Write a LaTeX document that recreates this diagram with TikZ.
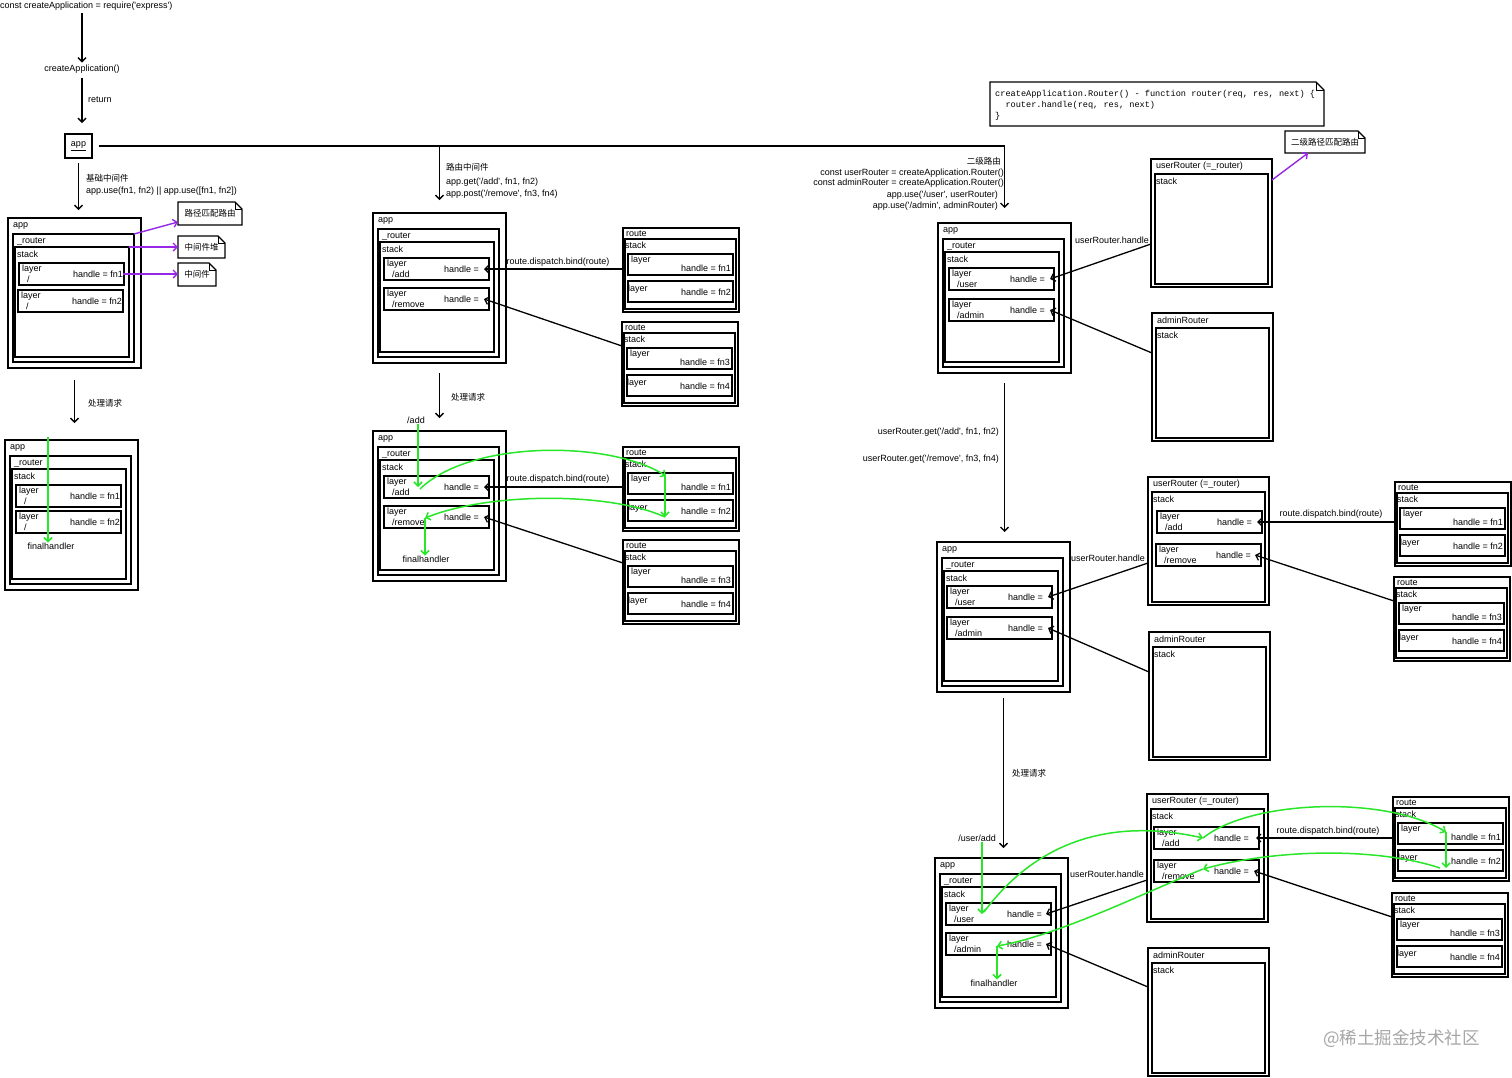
\documentclass[tikz,border=0pt]{standalone}
\usepackage{fontspec}
\setmainfont{Liberation Sans}
\newfontfamily\cjk{Noto Sans CJK SC}
\newfontfamily\codefont{Liberation Mono}
\usetikzlibrary{arrows.meta}
\definecolor{grn}{RGB}{40,230,40}
\definecolor{prp}{RGB}{150,40,230}
\newcommand\qs{\textquotesingle}
\tikzset{
 frame/.style={draw, line width=1.5pt, inner sep=0pt, outer sep=0pt, anchor=north west},
 lbl/.style={inner sep=0pt, anchor=west, font=\fontsize{9}{10}\selectfont},
 lblr/.style={lbl, anchor=east},
 lblc/.style={lbl, anchor=center},
 zh/.style={inner sep=0pt, anchor=west, font=\cjk\fontsize{8.5}{10}\selectfont},
 tipp/.style={-{Straight Barb[length=4pt,width=8pt]}},
 conn/.style={line width=1.3pt, tipp},
 flow/.style={line width=1.4pt, tipp},
 gline/.style={grn, line width=1.5pt, tipp},
 pline/.style={prp, line width=1.4pt, tipp},
 notebox/.style={inner sep=0pt, outer sep=0pt, anchor=north west, font=\cjk\fontsize{8.5}{10}\selectfont},
}
% app / _router / stack
\newcommand\apanel[3]{%
 \node[frame, minimum width=133, minimum height=150] (#1app) at (#2,#3) {};
 \node[lbl] (#1appL) at (#2+5,#3+8) {app};
 \node[frame, minimum width=121, minimum height=128] (#1rt) at (#2+5,#3+16) {};
 \node[lbl] (#1rtL) at (#2+9,#3+23) {\_router};
 \node[frame, minimum width=114, minimum height=110] (#1stk) at (#2+7,#3+29) {};
 \node[lbl] (#1stkL) at (#2+9,#3+36) {stack};
}
% layer: name, x, y, path, handle offset, handle text
\newcommand\laybox[6]{%
 \node[frame, minimum width=105, minimum height=22] (#1) at (#2,#3) {};
 \node[lbl] (#1a) at (#2+3,#3+6) {layer};
 \node[lbl] (#1b) at (#2+8,#3+16) {#4};
 \node[lblr] (#1c) at (#2+#5,#3+11) {#6};
}
% route box
\newcommand\rtbox[5]{%
 \node[frame, minimum width=116, minimum height=84] (#1) at (#2,#3) {};
 \node[lbl] (#1L) at (#2+3,#3+6) {route};
 \node[frame, minimum width=111, minimum height=70] (#1s) at (#2+2,#3+11) {};
 \node[lbl] (#1sL) at (#2+2,#3+17) {stack};
 \node[frame, minimum width=105, minimum height=21] (#1a) at (#2+5,#3+26) {};
 \node[lbl] (#1aL) at (#2+8,#3+32) {layer};
 \node[lblr] (#1aH) at (#2+108,#3+40) {handle = #4};
 \node[frame, minimum width=105, minimum height=21] (#1b) at (#2+5,#3+53) {};
 \node[lbl] (#1bL) at (#2+5,#3+61) {layer};
 \node[lblr] (#1bH) at (#2+108,#3+64) {handle = #5};
}
% userRouter / adminRouter
\newcommand\urouter[4]{%
 \node[frame, minimum width=121, minimum height=128] (#1) at (#2,#3) {};
 \node[lbl] (#1L) at (#2+5,#3+7) {#4};
 \node[frame, minimum width=113, minimum height=110] (#1s) at (#2+4,#3+15) {};
 \node[lbl] (#1sL) at (#2+5,#3+22) {stack};
}
% note with dog-ear
\newcommand\notebx[6]{%
 \node[notebox, minimum width=#4-#2, minimum height=#5-#3] (#1) at (#2,#3) {#6};
 \draw[line width=1.3pt] (#1.north west) -- ([xshift=-7pt]#1.north east) -- ([yshift=-7pt]#1.north east) -- (#1.south east) -- (#1.south west) -- cycle;
 \draw[line width=0.7pt] ([xshift=-7pt]#1.north east) |- ([yshift=-7pt]#1.north east);
}
\begin{document}
\begin{tikzpicture}[x=1pt,y=-1pt]
\useasboundingbox (0,0) rectangle (1512,1077);
\fill[white] (0,0) rectangle (1512,1077);

% ---------- top flow ----------
\node[lbl] (t0) at (0,6) {const createApplication = require(\qs express\qs)};
\node[lblc] (t1) at (82,69) {createApplication()};
\node[lbl] (t2) at (88,100) {return};
\node[draw, line width=1.5pt, minimum width=27, minimum height=24, inner sep=0pt, outer sep=0pt, font=\fontsize{9}{10}\selectfont] (app0) at (78.5,146) {\underline{app}};
\draw[flow, shorten <=3pt, shorten >=2pt] (t0.south -| t1.north) -- (t1.north);
\draw[flow, shorten <=5pt, shorten >=11pt] (t1.south) -- (t1.south |- app0.north);

% ---------- panels ----------
\apanel{A}{8}{218}
\laybox{Al1}{19}{263}{/}{104}{handle = fn1}
\laybox{Al2}{18}{290}{/}{104}{handle = fn2}

\apanel{B}{5}{440}
\laybox{Bl1}{16}{485}{/}{104}{handle = fn1}
\laybox{Bl2}{16}{511}{/}{104}{handle = fn2}
\node[lblc] (Bfin) at (51,546) {finalhandler};

\apanel{C}{373}{213}
\laybox{Cl1}{384}{258}{/add}{95}{handle =}
\laybox{Cl2}{384}{288}{/remove}{95}{handle =}
\rtbox{Cr1}{623}{228}{fn1}{fn2}
\rtbox{Cr2}{622}{322}{fn3}{fn4}

\apanel{D}{373}{431}
\laybox{Dl1}{384}{476}{/add}{95}{handle =}
\laybox{Dl2}{384}{506}{/remove}{95}{handle =}
\node[lblc] (Dfin) at (426,559) {finalhandler};
\rtbox{Dr1}{623}{447}{fn1}{fn2}
\rtbox{Dr2}{623}{540}{fn3}{fn4}

\apanel{E}{938}{223}
\laybox{El1}{949}{268}{/user}{96}{handle =}
\laybox{El2}{949}{299}{/admin}{96}{handle =}
\urouter{EuR}{1151}{159}{userRouter (=\_router)}
\urouter{EaR}{1152}{313}{adminRouter}

\apanel{F}{937}{542}
\laybox{Fl1}{947}{586}{/user}{96}{handle =}
\laybox{Fl2}{947}{617}{/admin}{96}{handle =}
\urouter{FuR}{1148}{477}{userRouter (=\_router)}
\laybox{Ful1}{1157}{511}{/add}{95}{handle =}
\laybox{Ful2}{1156}{544}{/remove}{95}{handle =}
\urouter{FaR}{1149}{632}{adminRouter}
\rtbox{Fr1}{1395}{482}{fn1}{fn2}
\rtbox{Fr2}{1394}{577}{fn3}{fn4}

\apanel{G}{935}{858}
\laybox{Gl1}{946}{903}{/user}{96}{handle =}
\laybox{Gl2}{946}{933}{/admin}{96}{handle =}
\node[lblc] (Gfin) at (994,983) {finalhandler};
\urouter{GuR}{1147}{794}{userRouter (=\_router)}
\laybox{Gul1}{1154}{827}{/add}{95}{handle =}
\laybox{Gul2}{1154}{860}{/remove}{95}{handle =}
\urouter{GaR}{1148}{948}{adminRouter}
\rtbox{Gr1}{1393}{797}{fn1}{fn2}
\rtbox{Gr2}{1392}{893}{fn3}{fn4}

% ---------- main branches from app ----------
\draw[flow] ([xshift=7pt]app0.east) -| ([yshift=15pt]Eapp.north);
\draw[flow] (app0.east -| Capp.north) -- ([yshift=13pt]Capp.north);
\draw[flow, shorten <=5pt, shorten >=8pt] (app0.south) -- (app0.south |- Aapp.north);

\node[zh] (l1) at (86,178) {基础中间件};
\node[lbl] (l2) at (86,191) {app.use(fn1, fn2) || app.use([fn1, fn2])};
\node[zh] (l3) at (446,167) {路由中间件};
\node[lbl] (l4) at (446,182) {app.get(\qs/add\qs, fn1, fn2)};
\node[lbl] (l5) at (446,194) {app.post(\qs/remove\qs, fn3, fn4)};
\node[zh, anchor=east] (l6) at (1001,161) {二级路由};
\node[lblr] (l7) at (1004,173) {const userRouter = createApplication.Router()};
\node[lblr] (l8) at (1004,183) {const adminRouter = createApplication.Router()};
\node[lblr] (l9) at (998,195) {app.use(\qs/user\qs, userRouter)};
\node[lblr] (l10) at (998,206) {app.use(\qs/admin\qs, adminRouter)};

% ---------- notes ----------
\notebx{n1}{178}{202}{242}{225}{路径匹配路由}
\notebx{n2}{178}{236}{225}{258}{中间件堆}
\notebx{n3}{178}{263}{216}{286}{中间件}
\notebx{n4}{1285}{131}{1365}{153}{二级路径匹配路由}
\node[inner sep=0pt, outer sep=0pt, minimum width=334, minimum height=44, anchor=north west] (code) at (990,82) {};
\draw[line width=1.3pt] (code.north west) -- ([xshift=-8pt]code.north east) -- ([yshift=-8pt]code.north east) -- (code.south east) -- (code.south west) -- cycle;
\draw[line width=0.7pt] ([xshift=-8pt]code.north east) |- ([yshift=-8pt]code.north east);
\node[inner sep=0pt, anchor=west, font=\codefont\fontsize{8.6}{10}\selectfont] (c1) at (995,94) {createApplication.Router() - function router(req, res, next) \{};
\node[inner sep=0pt, anchor=west, font=\codefont\fontsize{8.6}{10}\selectfont] (c2) at (995,105) {\hspace*{10.3pt}router.handle(req, res, next)};
\node[inner sep=0pt, anchor=west, font=\codefont\fontsize{8.6}{10}\selectfont] (c3) at (995,116) {\}};

% purple
\draw[pline] (Art.north east) -- ([yshift=3pt]n1.south west);
\draw[pline] (Astk.north east) -- (Astk.north east -| n2.west);
\draw[pline] ([xshift=-1pt]Al1.east) -- (Al1.east -| n3.west);
\draw[pline] ([yshift=-21pt]EuR.north east) -- ([xshift=-17pt]n4.south);

% ---------- down arrows ----------
\draw[flow, shorten <=12pt, shorten >=17pt] (Aapp.south) -- (Aapp.south |- Bapp.north);
\node[zh] (Bq) at (88,403) {处理请求};
\draw[flow, shorten <=10pt, shorten >=13pt] (Capp.south) -- (Capp.south |- Dapp.north);
\node[zh] (Dq) at (451,397) {处理请求};
\node[lblc] (Dadd) at (416,420) {/add};
\draw[flow, shorten <=10pt, shorten >=10pt] (Eapp.south) -- (Eapp.south |- Fapp.north);
\node[lblr] (Fg1) at (999,432) {userRouter.get(\qs/add\qs, fn1, fn2)};
\node[lblr] (Fg2) at (999,459) {userRouter.get(\qs/remove\qs, fn3, fn4)};
\draw[flow, shorten <=6pt, shorten >=10pt] (Fapp.south) -- (Fapp.south |- Gapp.north);
\node[zh] (Gq) at (1012,773) {处理请求};
\node[lblc] (Gua) at (977,838) {/user/add};

% ---------- black connectors ----------
\draw[conn] (Cr1.west |- Cl1.east) -- ([xshift=-5pt]Cl1.east);
\node[lblc] (Cdl) at (558,262) {route.dispatch.bind(route)};
\draw[conn] ([yshift=-24pt]Cr2.north west) -- ([xshift=-5pt]Cl2.east);

\draw[conn] (Dr1.west |- Dl1.east) -- ([xshift=-5pt]Dl1.east);
\node[lblc] (Ddl) at (558,479) {route.dispatch.bind(route)};
\draw[conn] ([yshift=-23pt]Dr2.north west) -- ([xshift=-5pt]Dl2.east);

\draw[conn] ([yshift=-85pt]EuR.north west) -- ([xshift=-4pt]El1.east);
\node[lblc] (Eul) at (1112,240) {userRouter.handle};
\draw[conn] ([yshift=-40pt]EaR.north west) -- ([xshift=-4pt]El2.east);

\draw[conn] ([yshift=-86pt]FuR.north west) -- ([xshift=-4pt]Fl1.east);
\node[lblc] (Ful) at (1108,558) {userRouter.handle};
\draw[conn] ([yshift=-40pt]FaR.north west) -- ([xshift=-4pt]Fl2.east);
\draw[conn] (Fr1.west |- Ful1.east) -- ([xshift=-5pt]Ful1.east);
\node[lblc] (Fdl) at (1331,514) {route.dispatch.bind(route)};
\draw[conn] ([yshift=-24pt]Fr2.north west) -- ([xshift=-6pt]Ful2.east);

\draw[conn] ([yshift=-86pt]GuR.north west) -- ([xshift=-5pt]Gl1.east);
\node[lblc] (Gul) at (1107,874) {userRouter.handle};
\draw[conn] ([yshift=-39pt]GaR.north west) -- ([xshift=-5pt]Gl2.east);
\draw[conn] (Gr1.west |- Gul1.east) -- ([xshift=-3pt]Gul1.east);
\node[lblc] (Gdl) at (1328,831) {route.dispatch.bind(route)};
\draw[conn] ([yshift=-24pt]Gr2.north west) -- ([xshift=-5pt]Gul2.east);

% ---------- green request paths ----------
\coordinate (Bg0) at (48,437);
\draw[gline] (Bg0) -- (Bg0 |- Bfin.north);

\draw[gline] ([xshift=2pt]Dadd.south) -- ([xshift=2pt]Dadd.south |- Dl1.center);
\coordinate (Dg1) at ([xshift=36pt,yshift=-2pt]Dl1.west);
\coordinate (Dg2) at ([xshift=38pt,yshift=-3pt]Dr1a.north west);
\coordinate (Dg3) at ([xshift=37pt,yshift=-17pt]Dr1b.north west);
\coordinate (Dg4) at ([xshift=41pt,yshift=-1pt]Dl2.west);
\draw[gline] (Dg1) .. controls (470,440) and (610,440) .. (Dg2);
\draw[gline] ([xshift=-1pt]Dg2) -- (Dg3);
\draw[gline] (Dg3) .. controls (610,492) and (490,492) .. (Dg4);
\draw[gline] (Dg4) -- (Dg4 |- Dfin.north);

\draw[gline] ([xshift=5pt]Gua.south) -- ([xshift=5pt]Gua.south |- Gl1.center);
\coordinate (Gg1) at ([xshift=38pt,yshift=2pt]Gl1.west);
\coordinate (Gg2) at ([xshift=49pt,yshift=0pt]Gul1.west);
\coordinate (Gg3) at ([xshift=48pt,yshift=-9pt]Gr1a.north west);
\coordinate (Gg4) at ([xshift=48pt,yshift=-18pt]Gr1b.north west);
\coordinate (Gg5) at ([xshift=49pt,yshift=2pt]Gul2.west);
\coordinate (Gg6) at ([xshift=51pt,yshift=-2pt]Gl2.west);
\draw[gline] (Gg1) .. controls (1030,850) and (1100,815) .. (Gg2);
\draw[gline] (Gg2) .. controls (1250,800) and (1385,795) .. (Gg3);
\draw[gline] (Gg3) -- (Gg4);
\draw[gline] ([xshift=-6pt]Gg4) .. controls (1380,848) and (1280,848) .. (Gg5);
\draw[gline] (Gg5) .. controls (1150,890) and (1060,935) .. (Gg6);
\draw[gline] (Gg6) -- (Gg6 |- Gfin.north);

% watermark
\node[inner sep=0pt, anchor=west, text=black!35, font=\cjk\fontsize{17.5}{18}\selectfont] (wm) at (1323,1039) {@稀土掘金技术社区};
\end{tikzpicture}
\end{document}
